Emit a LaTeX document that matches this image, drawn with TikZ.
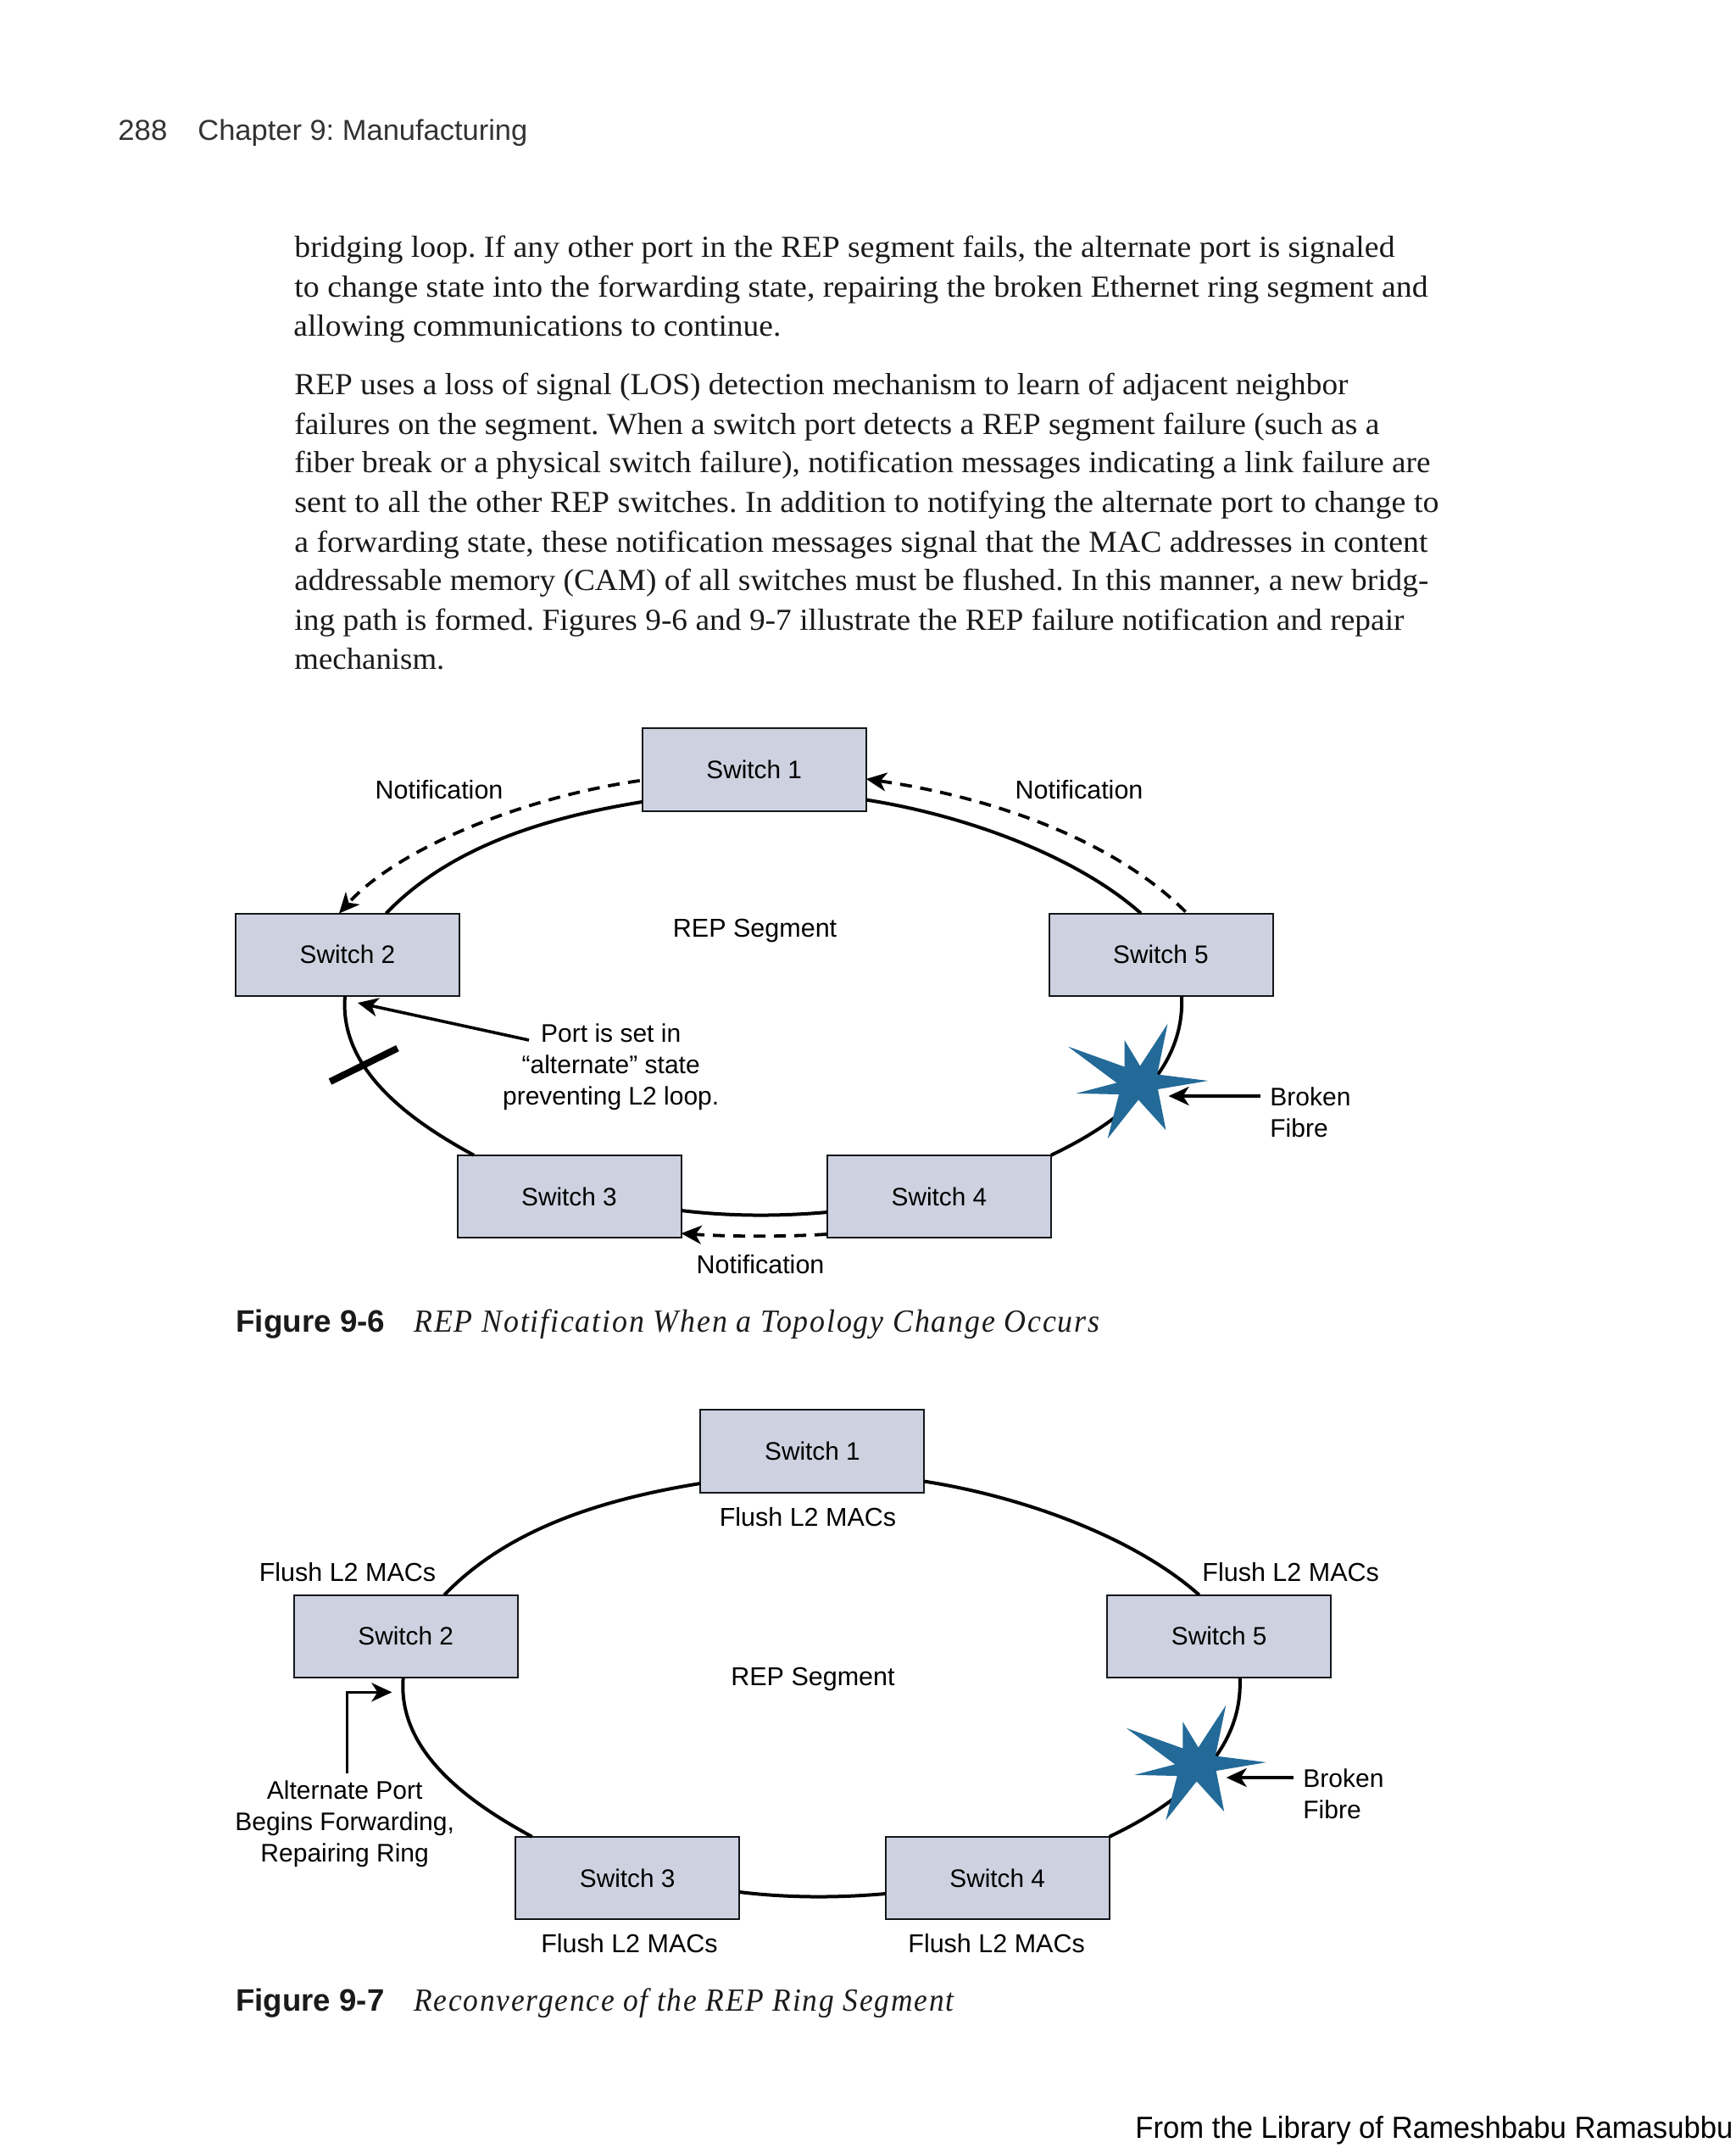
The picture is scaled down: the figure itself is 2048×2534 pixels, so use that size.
\documentclass[tikz,border=0pt]{standalone}
\usepackage{fontspec}
\usepackage{graphicx}
\setmainfont{Liberation Serif}
\setsansfont{Liberation Sans}
\newfontfamily\capfont[LetterSpace=5]{Liberation Serif}
\usetikzlibrary{arrows.meta}
\definecolor{boxfill}{HTML}{CED2E0}
\definecolor{boxline}{HTML}{14171A}
\definecolor{starblue}{HTML}{236A98}
\definecolor{inktext}{HTML}{1A1A1A}
\newcommand{\fitw}[2]{\resizebox{\dimexpr#1pt/2\relax}{\height}{#2}}
\frenchspacing
\tikzset{
  swbox/.style={draw=boxline,fill=boxfill,line width=1pt,minimum width=132pt,minimum height=48.75pt,inner sep=0pt,outer sep=0pt,font=\sffamily\fontsize{14.9}{18}\selectfont,text=black},
  ring/.style={line width=2pt,black},
  notif/.style={line width=1.9pt,black,dash pattern=on 7pt off 5pt,-{Stealth[length=12pt,width=11pt,inset=3.5pt]}},
  arr/.style={line width=1.8pt,black,-{Stealth[length=12pt,width=11pt,inset=3.5pt]}},
  lab/.style={anchor=base,inner sep=0pt,font=\sffamily\fontsize{15.25}{18.5}\selectfont,text=black},
  mlab/.style={inner sep=0pt,font=\sffamily\fontsize{15.0}{18.5}\selectfont,text=black},
  bodyl/.style={anchor=base west,inner sep=0pt,font=\rmfamily\fontsize{18}{22}\selectfont,text=inktext},
  head/.style={anchor=base west,inner sep=0pt,font=\sffamily\fontsize{17}{20}\selectfont,text=black!80},
  figno/.style={anchor=base west,inner sep=0pt,font=\sffamily\bfseries\fontsize{18.3}{22}\selectfont,text=inktext},
  figcap/.style={anchor=base west,inner sep=0pt,font=\capfont\itshape\fontsize{19}{22}\selectfont,text=inktext},
  foot/.style={anchor=base west,inner sep=0pt,font=\sffamily\fontsize{18}{22}\selectfont,text=black},
}
\newcommand{\repring}[1]{%
  \node[swbox] (#11) at (889.75,907.75) {Switch 1};
  \node[swbox] (#12) at (410,1126.25) {Switch 2};
  \node[swbox] (#13) at (671.5,1411.5) {Switch 3};
  \node[swbox] (#14) at (1108,1411.5) {Switch 4};
  \node[swbox] (#15) at (1369.5,1126.25) {Switch 5};
  \draw[ring] ([xshift=22.75pt]#12.north) .. controls (530,1000) and (640,965) .. ([yshift=-19.1pt]#11.west);
  \draw[ring] ([yshift=-17.9pt]#11.east) .. controls (1140,962) and (1270,1010) .. ([xshift=-11.75pt]#15.north);
  \draw[ring] ([xshift=12.25pt]#15.south) .. controls (1398,1260) and (1330,1320) .. (#14.north east);
  \draw[ring] ([yshift=-9.25pt]#14.west) .. controls (920,1435) and (860,1435) .. ([yshift=-8.25pt]#13.east);
  \draw[ring] ([xshift=-56.25pt]#13.north) .. controls (480,1320) and (400,1260) .. ([xshift=-1.5pt]#12.south);
  \fill[starblue] (1377.5,1207.7) -- (1365.2,1267.5) -- (1425.3,1275) -- (1366,1285) -- (1375.5,1333.2) -- (1343,1297.4) -- (1306.7,1343.2) -- (1320,1291) -- (1269.5,1289.9) -- (1317.4,1277.4) -- (1260,1234.6) -- (1326.6,1258.5) -- (1326.6,1227.1) -- (1345,1257.5) -- cycle;
}
\begin{document}
\begin{tikzpicture}[x=0.5pt,y=-0.5pt]
\fill[white] (0,0) rectangle (2048,2534);
\useasboundingbox (0,0) rectangle (2048,2534);
% running head
\node[head] (pageno) at (139,165) {\fitw{58}{288}};
\node[head] (chapter) at (233,165) {\fitw{389}{Chapter 9: Manufacturing}};
% body
\node[bodyl] (t1) at (347,303) {\fitw{1298}{bridging loop. If any other port in the REP segment fails, the alternate port is signaled}};
\node[bodyl] (t2) at (347,350) {\fitw{1337}{to change state into the forwarding state, repairing the broken Ethernet ring segment and}};
\node[bodyl] (t3) at (346,396) {\fitw{575}{allowing communications to continue.}};
\node[bodyl] (t4) at (347,465) {\fitw{1243}{REP uses a loss of signal (LOS) detection mechanism to learn of adjacent neighbor}};
\node[bodyl] (t5) at (347,512) {\fitw{1280}{failures on the segment. When a switch port detects a REP segment failure (such as a}};
\node[bodyl] (t6) at (347,557) {\fitw{1340}{fiber break or a physical switch failure), notification messages indicating a link failure are}};
\node[bodyl] (t7) at (347,604) {\fitw{1350}{sent to all the other REP switches. In addition to notifying the alternate port to change to}};
\node[bodyl] (t8) at (347,651) {\fitw{1337}{a forwarding state, these notification messages signal that the MAC addresses in content}};
\node[bodyl] (t9) at (347,696) {\fitw{1338}{addressable memory (CAM) of all switches must be flushed. In this manner, a new bridg-}};
\node[bodyl] (t10) at (347,743) {\fitw{1309}{ing path is formed. Figures 9-6 and 9-7 illustrate the REP failure notification and repair}};
\node[bodyl] (t11) at (347,789) {\fitw{177}{mechanism.}};
% Figure 9-6
\repring{a}
\draw[notif] ([xshift=-1.5pt,yshift=-6.6pt]a1.west) .. controls (620,940) and (470,1000) .. ([xshift=-5pt]a2.north);
\draw[notif] ([xshift=14.5pt,yshift=1pt]a5.north) .. controls (1318,995) and (1180,942) .. ([yshift=-5.6pt]a1.east);
\draw[notif] ([xshift=-0.5pt,yshift=-22.25pt]a4.west) .. controls (930,1459) and (860,1459) .. ([yshift=-21.75pt]a3.east);
\coordinate (tickA) at (389.5,1276);
\coordinate (tickB) at (469,1236.6);
\draw[line width=4pt,black] (tickA) -- (tickB);
\node[lab] (n1) at (518,942) {Notification};
\node[lab] (n2) at (1273,942) {Notification};
\node[lab] (n3) at (897,1502.5) {Notification};
\node[lab] (rep1) at (890.6,1105.5) {REP Segment};
\node[mlab,align=center] (port) at (720.7,1259) {Port is set in\\“alternate” state\\preventing L2 loop.};
\coordinate (portS) at (624,1227);
\coordinate (portT) at (422,1183);
\draw[arr] (portS) -- (portT);
\node[mlab,align=left,anchor=west] (brk1) at (1498,1312) {Broken\\Fibre};
\coordinate (brk1S) at (1486.5,1293);
\coordinate (brk1T) at (1378.6,1293);
\draw[arr] (brk1S) -- (brk1T);
\node[figno] (fig6) at (278,1571) {\fitw{176}{Figure 9-6}};
\node[figcap] (cap6) at (488,1571) {\fitw{809}{REP Notification When a Topology Change Occurs}};
% Figure 9-7
\begin{scope}[shift={(68.7,804)}]
\repring{b}
\end{scope}
\node[lab] (f1) at (953,1800) {Flush L2 MACs};
\node[lab] (f2) at (410,1865.4) {Flush L2 MACs};
\node[lab] (f5) at (1522.7,1865.4) {Flush L2 MACs};
\node[lab] (f3) at (742.5,2303) {Flush L2 MACs};
\node[lab] (f4) at (1175.6,2303) {Flush L2 MACs};
\node[lab] (rep2) at (959,1988.5) {REP Segment};
\node[mlab,align=center] (alt) at (406.7,2152) {Alternate Port\\Begins Forwarding,\\Repairing Ring};
\coordinate (altS) at (409.6,2092);
\coordinate (altT) at (462.4,1996.3);
\draw[arr,rounded corners=0pt] (altS) |- (altT);
\node[mlab,align=left,anchor=west] (brk2) at (1537,2116.6) {Broken\\Fibre};
\coordinate (brk2S) at (1525.6,2097);
\coordinate (brk2T) at (1446.7,2097);
\draw[arr] (brk2S) -- (brk2T);
\node[figno] (fig7) at (278,2372) {\fitw{175}{Figure 9-7}};
\node[figcap] (cap7) at (488,2372) {\fitw{637}{Reconvergence of the REP Ring Segment}};
% footer
\node[foot] (footer) at (1339,2522) {\fitw{705}{From the Library of Rameshbabu Ramasubbu}};
\end{tikzpicture}
\end{document}
